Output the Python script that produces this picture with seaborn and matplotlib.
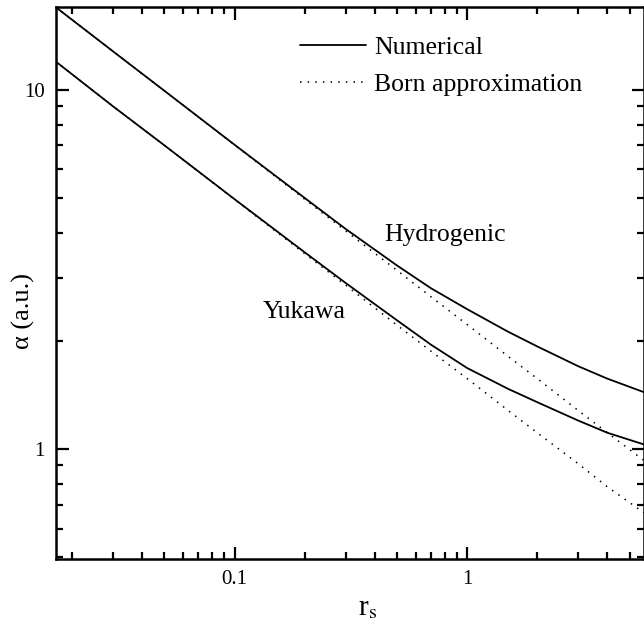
import matplotlib
matplotlib.use("Agg")
import matplotlib.pyplot as plt
import seaborn as sns
from matplotlib.ticker import LogLocator, NullFormatter, FixedLocator, FixedFormatter

# values (log-log)
r_s = [0.017, 0.03, 0.05, 0.1, 0.2, 0.3, 0.5, 0.7, 1.0, 1.5, 2.0, 3.0, 4.0, 5.74]
hyd_num = [17.0, 12.8, 9.93, 7.03, 5.0, 4.1, 3.24, 2.8, 2.45, 2.12, 1.93, 1.70, 1.57, 1.44]
hyd_born = [17.0, 12.8, 9.93, 7.02, 4.96, 4.05, 3.14, 2.65, 2.22, 1.81, 1.57, 1.28, 1.11, 0.93]
yuk_num = [12.0, 9.0, 7.0, 4.96, 3.53, 2.9, 2.28, 1.95, 1.68, 1.47, 1.35, 1.20, 1.11, 1.03]
yuk_born = [12.0, 9.0, 7.0, 4.95, 3.5, 2.86, 2.21, 1.87, 1.57, 1.28, 1.11, 0.91, 0.785, 0.665]

sns.set_style("ticks", {"axes.edgecolor": "black", "text.color": "black",
                        "xtick.color": "black", "ytick.color": "black",
                        "axes.labelcolor": "black"})
plt.rcParams["font.family"] = ["Liberation Serif", "DejaVu Serif"]
plt.rcParams["mathtext.fontset"] = "stix"

fig = plt.figure(figsize=(6.44, 6.31), dpi=100)
ax = fig.add_axes([0.087, 0.114, 0.913, 0.875])

dot = (0, (1, 4))
sns.lineplot(x=r_s, y=hyd_num, ax=ax, color="black", lw=1.3, label="Numerical")
sns.lineplot(x=r_s, y=hyd_born, ax=ax, color="black", lw=1.1, linestyle=dot, label="Born approximation")
sns.lineplot(x=r_s, y=yuk_num, ax=ax, color="black", lw=1.3)
sns.lineplot(x=r_s, y=yuk_born, ax=ax, color="black", lw=1.1, linestyle=dot)

ax.set_xscale("log")
ax.set_yscale("log")
ax.set_xlim(0.0171, 5.75)
ax.set_ylim(0.494, 17.0)

ax.xaxis.set_major_locator(FixedLocator([0.1, 1]))
ax.xaxis.set_major_formatter(FixedFormatter(["0.1", "1"]))
ax.yaxis.set_major_locator(FixedLocator([1, 10]))
ax.yaxis.set_major_formatter(FixedFormatter(["1", "10"]))
ax.xaxis.set_minor_locator(LogLocator(base=10, subs=range(2, 10)))
ax.yaxis.set_minor_locator(LogLocator(base=10, subs=range(2, 10)))
ax.xaxis.set_minor_formatter(NullFormatter())
ax.yaxis.set_minor_formatter(NullFormatter())

ax.tick_params(which="both", direction="in", top=True, right=True, width=1.6, labelsize=15)
ax.tick_params(which="major", length=9, pad=8)
ax.tick_params(which="minor", length=5)
for s in ax.spines.values():
    s.set_linewidth(1.8)

ax.set_xlabel(r"r$_{\mathrm{s}}$", fontsize=21)
ax.xaxis.set_label_coords(0.53, -0.065)
ax.set_ylabel("α (a.u.)", fontsize=19)
ax.yaxis.set_label_coords(-0.036, 0.45)

ax.text(0.44, 3.95, "Hydrogenic", fontsize=18.5, ha="left", va="center")
ax.text(0.132, 2.4, "Yukawa", fontsize=18.5, ha="left", va="center")

leg = ax.legend(loc="upper left", bbox_to_anchor=(0.415, 0.947), frameon=False, fontsize=18.5,
                borderpad=0, borderaxespad=0,
                handlelength=2.57, handletextpad=0.31, labelspacing=0.52)

fig.savefig("out.png", dpi=100)
